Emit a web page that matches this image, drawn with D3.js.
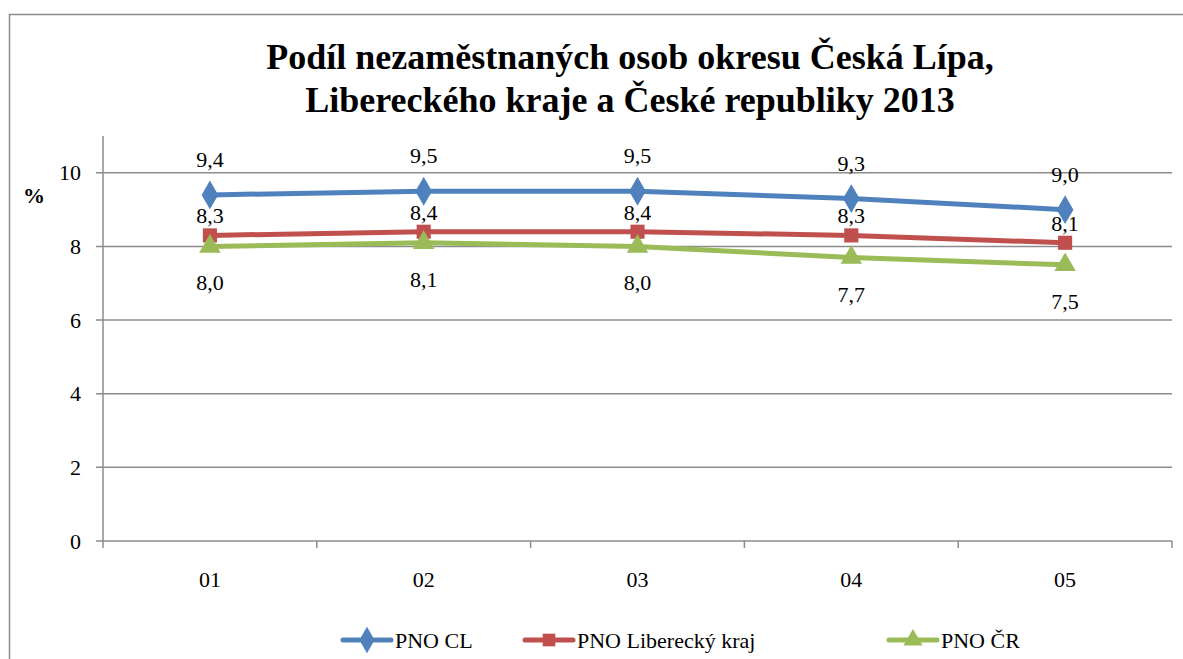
<!DOCTYPE html>
<html>
<head>
<meta charset="utf-8">
<script src="https://cdn.jsdelivr.net/npm/d3@7"></script>
<style>
  body { margin: 0; background: #fff; }
  svg text { font-family: "Liberation Serif", "Times New Roman", Times, Tinos, "Nimbus Roman", "Nimbus Roman No9 L", FreeSerif, "Noto Serif", "DejaVu Serif", Georgia, serif; }
</style>
</head>
<body>
<div id="chart"></div>
<script>
// Data
const months = ["01", "02", "03", "04", "05"];
const pnoCL = [9.4, 9.5, 9.5, 9.3, 9.0];
const pnoLK = [8.3, 8.4, 8.4, 8.3, 8.1];
const pnoCR = [8.0, 8.1, 8.0, 7.7, 7.5];
const yTicks = [0, 2, 4, 6, 8, 10];

const series = [
  { name: "PNO CL", values: pnoCL, color: "#4F81BD", symbol: d3.symbolDiamond, labelPos: "above" },
  { name: "PNO Liberecký kraj", values: pnoLK, color: "#C0504D", symbol: d3.symbolSquare, labelPos: "above" },
  { name: "PNO ČR", values: pnoCR, color: "#9BBB59", symbol: d3.symbolTriangle, labelPos: "below" }
];

const W = 1183, H = 659;
const plot = { left: 103, right: 1172, top: 136, bottom: 541 };

const svg = d3.select("#chart").append("svg")
  .attr("width", W)
  .attr("height", H);

// outer chart border
svg.append("rect")
  .attr("x", 9.5).attr("y", 14.5)
  .attr("width", W + 20).attr("height", H + 20)
  .attr("fill", "none")
  .attr("stroke", "#8c8c8c")
  .attr("stroke-width", 1.5);

// title
const title = svg.append("text")
  .attr("text-anchor", "middle")
  .style("font-size", "36px")
  .style("font-weight", "bold");
title.append("tspan").attr("x", 630).attr("y", 69).text("Podíl nezaměstnaných osob okresu Česká Lípa,");
title.append("tspan").attr("x", 630).attr("y", 112).text("Libereckého kraje a České republiky 2013");

const x = d3.scaleBand()
  .domain(months)
  .range([plot.left, plot.right]);

const y = d3.scaleLinear()
  .domain([0, 11])
  .range([plot.bottom, plot.top]);

// horizontal grid lines
svg.append("g")
  .selectAll("line")
  .data(yTicks)
  .join("line")
  .attr("x1", plot.left - 7)
  .attr("x2", plot.right)
  .attr("y1", d => y(d))
  .attr("y2", d => y(d))
  .attr("stroke", "#8c8c8c")
  .attr("stroke-width", 1.5);

// y axis
const yAxis = svg.append("g")
  .attr("transform", `translate(${plot.left},0)`)
  .call(d3.axisLeft(y).tickValues(yTicks).tickSize(0).tickPadding(22).tickFormat(d3.format("d")));
yAxis.select(".domain").remove();
yAxis.selectAll("text")
  .style("font-size", "22px")
  .attr("fill", "#000");

svg.append("line")
  .attr("x1", plot.left).attr("x2", plot.left)
  .attr("y1", plot.top).attr("y2", plot.bottom + 7)
  .attr("stroke", "#8c8c8c")
  .attr("stroke-width", 1.5);

// x axis ticks at band boundaries
const bounds = months.map(m => x(m) + x.bandwidth());
svg.append("g")
  .selectAll("line")
  .data(bounds)
  .join("line")
  .attr("x1", d => d).attr("x2", d => d)
  .attr("y1", plot.bottom).attr("y2", plot.bottom + 7)
  .attr("stroke", "#8c8c8c")
  .attr("stroke-width", 1.5);

svg.append("g")
  .selectAll("text")
  .data(months)
  .join("text")
  .attr("x", d => x(d) + x.bandwidth() / 2)
  .attr("y", plot.bottom + 46)
  .attr("text-anchor", "middle")
  .style("font-size", "22px")
  .text(d => d);

// y axis unit
svg.append("text")
  .attr("x", 34).attr("y", 203)
  .attr("text-anchor", "middle")
  .style("font-size", "22px")
  .style("font-weight", "bold")
  .text("%");

const line = d3.line()
  .x((d, i) => x(months[i]) + x.bandwidth() / 2)
  .y(d => y(d));

const fmt = v => d3.format(".1f")(v).replace(".", ",");

series.forEach(s => {
  svg.append("path")
    .datum(s.values)
    .attr("fill", "none")
    .attr("stroke", s.color)
    .attr("stroke-width", 5)
    .attr("stroke-linejoin", "round")
    .attr("stroke-linecap", "round")
    .attr("d", line);

  svg.append("g")
    .selectAll("path")
    .data(s.values)
    .join("path")
    .attr("transform", (d, i) => `translate(${x(months[i]) + x.bandwidth() / 2},${y(d)})`)
    .attr("d", d3.symbol().type(s.symbol).size(s.symbol === d3.symbolDiamond ? 240 : 200))
    .attr("fill", s.color);

  svg.append("g")
    .selectAll("text")
    .data(s.values)
    .join("text")
    .attr("x", (d, i) => x(months[i]) + x.bandwidth() / 2)
    .attr("y", d => s.labelPos === "above" ? y(d) - (s.symbol === d3.symbolDiamond ? 28 : 12) : y(d) + 44)
    .attr("text-anchor", "middle")
    .style("font-size", "22px")
    .text(d => fmt(d));
});

// legend
const legendX = [343, 525, 889];
series.forEach((s, i) => {
  const g = svg.append("g").attr("transform", `translate(${legendX[i]},640)`);
  g.append("line")
    .attr("x1", 0).attr("x2", 48)
    .attr("stroke", s.color)
    .attr("stroke-width", 5)
    .attr("stroke-linecap", "round");
  g.append("path")
    .attr("transform", "translate(24,0)")
    .attr("d", d3.symbol().type(s.symbol).size(s.symbol === d3.symbolDiamond ? 200 : 160))
    .attr("fill", s.color);
  g.append("text")
    .attr("x", 52).attr("y", 8)
    .style("font-size", "22px")
    .text(s.name);
});
</script>
</body>
</html>
